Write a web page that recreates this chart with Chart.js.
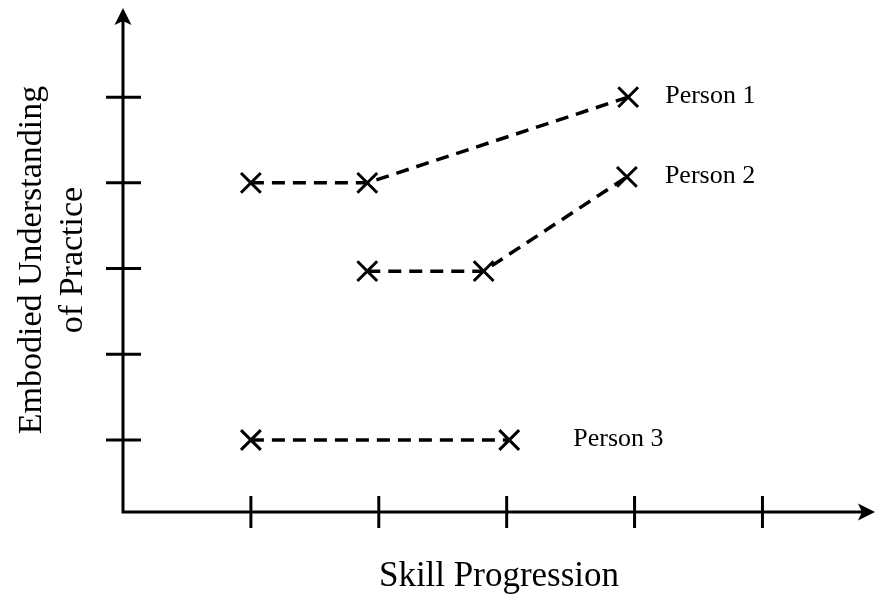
<!DOCTYPE html>
<html>
<head>
<meta charset="utf-8">
<script src="https://cdn.jsdelivr.net/npm/chart.js@4"></script>
<style>
  body { margin: 0; background: #fff; }
  #chart { display: block; }
</style>
</head>
<body>
<canvas id="chart" width="876" height="598"></canvas>
<script>
// values
const xTicks = [1, 2, 3, 4, 5];
const yTicks = [1, 2, 3, 4, 5];
const seriesNames = ['Person 1', 'Person 2', 'Person 3'];
const person1X = [1, 1.91, 3.95];
const person1Y = [4, 4, 5];
const person2X = [1.91, 2.82, 3.94];
const person2Y = [2.97, 2.97, 4.07];
const person3X = [1, 3.02];
const person3Y = [1, 1];

const serif = '"Liberation Serif", "Times New Roman", serif';

function pts(xs, ys) {
  return xs.map((v, i) => ({ x: v, y: ys[i] }));
}

function series(name, xs, ys, gap) {
  return {
    label: name,
    data: pts(xs, ys),
    showLine: true,
    borderColor: '#000',
    borderWidth: 3.5,
    borderDash: [13, 8],
    pointStyle: 'crossRot',
    pointRadius: 14,
    pointHoverRadius: 14,
    pointBorderWidth: 3,
    pointBorderColor: '#000',
    labelGap: gap
  };
}

// axis lines, crossing ticks and arrow heads
const axesPlugin = {
  id: 'axes',
  beforeDatasetsDraw(chart) {
    const { ctx, chartArea: a, scales: { x, y } } = chart;
    const x0 = a.left, y0 = a.bottom;
    ctx.save();
    ctx.strokeStyle = '#000';
    ctx.fillStyle = '#000';
    ctx.lineWidth = 3;
    ctx.lineJoin = 'miter';
    ctx.beginPath();
    ctx.moveTo(x0, a.top + 12);
    ctx.lineTo(x0, y0);
    ctx.lineTo(a.right - 12, y0);
    ctx.stroke();

    ctx.beginPath();
    xTicks.forEach(v => {
      const px = x.getPixelForValue(v);
      ctx.moveTo(px, y0 - 16);
      ctx.lineTo(px, y0 + 16);
    });
    yTicks.forEach(v => {
      const py = y.getPixelForValue(v);
      ctx.moveTo(x0 - 17, py);
      ctx.lineTo(x0 + 18, py);
    });
    ctx.stroke();

    // arrow up
    ctx.beginPath();
    ctx.moveTo(x0, a.top);
    ctx.lineTo(x0 - 8.5, a.top + 17);
    ctx.lineTo(x0, a.top + 13);
    ctx.lineTo(x0 + 8.5, a.top + 17);
    ctx.closePath();
    ctx.fill();
    // arrow right
    ctx.beginPath();
    ctx.moveTo(a.right, y0);
    ctx.lineTo(a.right - 17, y0 - 8.5);
    ctx.lineTo(a.right - 13, y0);
    ctx.lineTo(a.right - 17, y0 + 8.5);
    ctx.closePath();
    ctx.fill();
    ctx.restore();
  },
  afterDatasetsDraw(chart) {
    const ctx = chart.ctx;
    ctx.save();
    ctx.fillStyle = '#000';
    ctx.font = '26px ' + serif;
    ctx.textAlign = 'left';
    ctx.textBaseline = 'alphabetic';
    chart.data.datasets.forEach((ds, i) => {
      const meta = chart.getDatasetMeta(i);
      const last = meta.data[meta.data.length - 1];
      ctx.fillText(ds.label, last.x + ds.labelGap, last.y + 6);
    });
    ctx.restore();
  }
};

new Chart(document.getElementById('chart'), {
  type: 'scatter',
  data: {
    datasets: [
      series(seriesNames[0], person1X, person1Y, 37),
      series(seriesNames[1], person2X, person2Y, 38),
      series(seriesNames[2], person3X, person3Y, 64)
    ]
  },
  options: {
    responsive: false,
    animation: false,
    devicePixelRatio: 1,
    layout: { autoPadding: false, padding: { top: 8, right: 1, left: 0, bottom: 0 } },
    plugins: {
      legend: { display: false },
      tooltip: { enabled: false }
    },
    scales: {
      x: {
        type: 'linear',
        min: 0,
        max: 5.88,
        grid: { display: false, drawTicks: false },
        border: { display: false },
        ticks: { display: false },
        title: {
          display: true,
          text: 'Skill Progression',
          color: '#000',
          font: { family: serif, size: 35, lineHeight: 1.2 },
          padding: { top: 44, bottom: 0 }
        }
      },
      y: {
        type: 'linear',
        min: 0.16,
        max: 6.04,
        grid: { display: false, drawTicks: false },
        border: { display: false },
        ticks: { display: false },
        title: {
          display: true,
          text: ['Embodied Understanding', 'of Practice'],
          color: '#000',
          font: { family: serif, size: 34, lineHeight: 1.2 },
          padding: { top: 12, bottom: 29.4 }
        }
      }
    }
  },
  plugins: [axesPlugin]
});
</script>
</body>
</html>
